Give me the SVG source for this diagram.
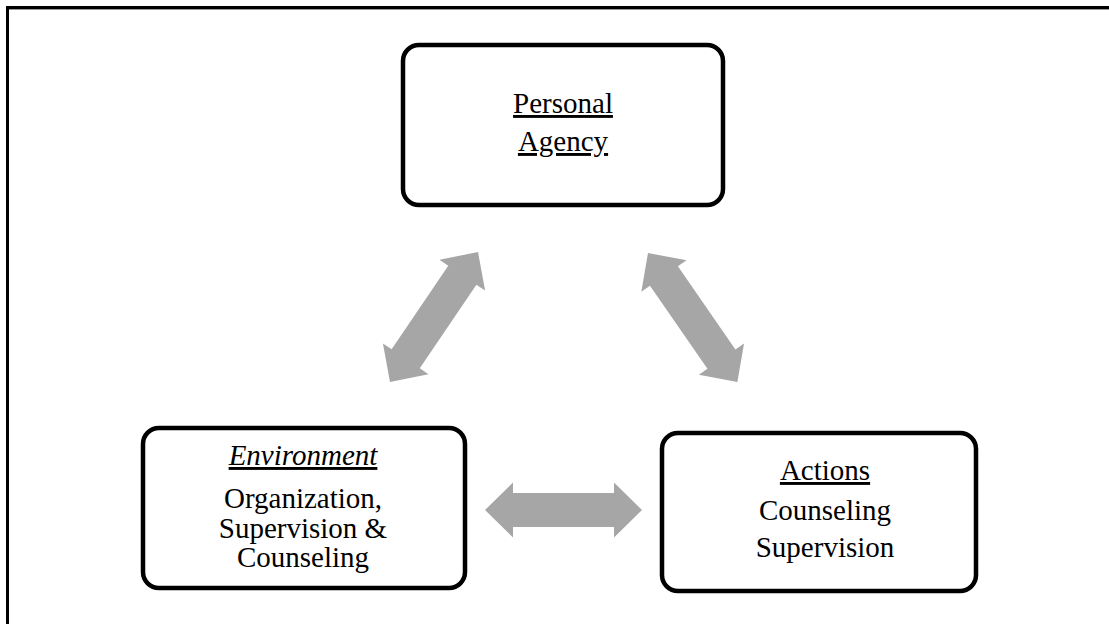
<svg xmlns="http://www.w3.org/2000/svg" width="1109" height="624" viewBox="0 0 1109 624">
<style>
.box{fill:#fff;stroke:#000;stroke-width:4.5}
.t{font-family:"Liberation Serif","Times New Roman",serif;font-size:29px;fill:#000;text-anchor:middle}
.u{text-decoration:underline}
.arrow{fill:#A6A6A6}
</style>
<defs>
<path id="dbl" d="M0,0 L28,-27.5 L28,-17 L129,-17 L129,-27.5 L157,0 L129,27.5 L129,17 L28,17 L28,27.5 Z"/>
</defs>
<rect width="1109" height="624" fill="#fff"/>
<g id="frame">
<line x1="6" y1="9.5" x2="1109" y2="9.5" stroke="#999" stroke-width="1"/>
<line x1="6" y1="7.5" x2="1109" y2="7.5" stroke="#000" stroke-width="3"/>
<line x1="7.5" y1="6" x2="7.5" y2="624" stroke="#000" stroke-width="3"/>
</g>
<g id="connectors" class="arrow">
<use href="#dbl" transform="translate(390,382) rotate(-55.9)"/>
<use href="#dbl" transform="translate(648,253) rotate(55.3)"/>
<use href="#dbl" transform="translate(485,510)"/>
</g>
<g id="personal-agency">
<rect class="box" x="403" y="45" width="320" height="160" rx="16"/>
<text class="t u" x="563" y="113">Personal</text>
<text class="t u" x="563" y="151">Agency</text>
</g>
<g id="environment">
<rect class="box" x="143" y="428" width="322" height="160" rx="16"/>
<text class="t u" x="303" y="465" font-style="italic">Environment</text>
<text class="t" x="303" y="508">Organization,</text>
<text class="t" x="303" y="538">Supervision &amp;</text>
<text class="t" x="303" y="567">Counseling</text>
</g>
<g id="actions">
<rect class="box" x="662" y="433" width="314" height="158" rx="16"/>
<text class="t u" x="825" y="480">Actions</text>
<text class="t" x="825" y="520">Counseling</text>
<text class="t" x="825" y="557">Supervision</text>
</g>
</svg>
